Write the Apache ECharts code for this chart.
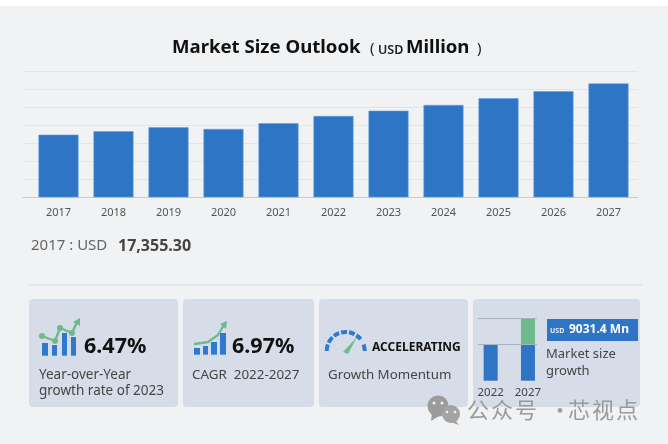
<!DOCTYPE html>
<html><head><meta charset="utf-8">
<style>html,body{margin:0;padding:0;background:#fff}#c{width:668px;height:444px}</style>
<script src="https://cdn.jsdelivr.net/npm/echarts@6/dist/echarts.min.js"></script>
</head><body><div id="c"></div>
<script>
const categories = ['2017','2018','2019','2020','2021','2022','2023','2024','2025','2026','2027'];
const marketSize = [17355.3,18290,19400,18930,20510,22530,23990,25580,27430,29380,31561];
const miniCategories = ['2022','2027'];
const miniBase = [22530,22530];
const miniGrowth = [0,9031.4];
const miniGuides = [22530,31561];

const F = '"Noto Sans", sans-serif';
const BLUE = '#2e75c6', GREEN = '#6dbb8d', CARD = '#d6dde8';
const g = [];
const rect = (x,y,w,h,fill,r) => g.push({type:'rect',z:-5,shape:{x,y,width:w,height:h,r:r||0},style:{fill},silent:true});
const txt = (x,y,text,size,fill,weight,align) => g.push({type:'text',z:20,x,y,style:{text,fontSize:size,fill,fontWeight:weight||'normal',fontFamily:F,textAlign:align||'left',textVerticalAlign:'middle'},silent:true});
const poly = (points,stroke,w) => g.push({type:'polyline',z:10,shape:{points,smooth:0},style:{stroke,lineWidth:w,fill:null,lineCap:'round',lineJoin:'round'},silent:true});
const tri = (points,fill) => g.push({type:'polygon',z:10,shape:{points},style:{fill},silent:true});
const dot = (cx,cy,r,fill) => g.push({type:'circle',z:11,shape:{cx,cy,r},style:{fill},silent:true});
const bar = (x,y,w,h,fill) => g.push({type:'rect',z:9,shape:{x,y,width:w,height:h},style:{fill},silent:true});

// page backdrop
rect(0,6,668,438,'#f1f2f4');
rect(29,284.6,613,1,'#d8d9e4');
rect(29,299,149,108,CARD,4);
rect(183,299,131,108,CARD,4);
rect(319,299,149,108,CARD,4);
rect(473,299,167,108,CARD,4);

// title
txt(172,48,'Market Size Outlook',18.6,'#111','bold');
txt(370,49,'(',15,'#222');
txt(378,50,'USD',12.5,'#222','600');
txt(406,48,'Million',18.6,'#111','bold');
txt(477,49,')',15,'#222');

txt(31,246,'2017 : USD',15,'#666');
txt(118,246,'17,355.30',16,'#444','bold');

// card 1
[[42,343,6],[52,345,5],[62,333,5],[71,337,5]].forEach(b=>bar(b[0],b[1],b[2],355.7-b[1],'#2f7ad0'));
poly([[42,336],[55,341],[60,328],[72,333],[77,322]],GREEN,2.4);
tri([[73,322],[80,318],[80,326]],GREEN);
[[42,336],[55,341],[60,328],[72,333]].forEach(p=>dot(p[0],p[1],3,GREEN));
txt(84,347,'6.47%',21.5,'#111','bold');
txt(39,375,'Year-over-Year',13.5,'#444');
txt(39,391,'growth rate of 2023',13.5,'#444');

// card 2
[[194,348,6],[203,346,5],[211,342,6],[220,333,6]].forEach(b=>bar(b[0],b[1],b[2],354.7-b[1],'#2f7ad0'));
poly([[195,344],[208,342],[218,335],[224,325]],GREEN,2.4);
tri([[220,324],[227,321],[226,329]],GREEN);
txt(232,347,'6.97%',21.5,'#111','bold');
txt(192,375,'CAGR  2022-2027',13.4,'#444');

// card 3 gauge
[[180,200],[206,226],[232,250],[256,274],[280,298],[304,322],[340,360]].forEach(a=>g.push({type:'arc',z:10,shape:{cx:345.7,cy:351,r:19,startAngle:a[0]*Math.PI/180,endAngle:a[1]*Math.PI/180},style:{stroke:'#2f7ad0',lineWidth:4,fill:null},silent:true}));
tri([[343,352],[348,354],[357,337]],GREEN);
txt(372,348,'ACCELERATING',12,'#111','bold');
txt(328,375,'Growth Momentum',13.3,'#444');

// card 4
bar(547,319,91,22,BLUE);
txt(550,331,'USD',7,'#e6f0fb','bold');
txt(569,330,'9031.4 Mn',12,'#fff','bold');
txt(546,354,'Market size',13,'#444');
txt(546,371,'growth',13,'#444');

// watermark
dot(438,406,10.5,'#9b9b9b'); dot(451,414,9,'#a3a3a3');
tri([[432,413],[431,421],[439,416]],'#9b9b9b');
tri([[455,420],[459,425],[450,422]],'#a3a3a3');
dot(434,403,1.5,'#f1f2f4');dot(442,403,1.5,'#f1f2f4');dot(447,412,1.3,'#f1f2f4');dot(455,412,1.3,'#f1f2f4');
const WM='"Noto Sans CJK SC"';
[['公',467],['众',491],['号',515],['·',549],['芯',568],['视',592],['点',616]].forEach(c=>g.push({type:'text',z:30,x:c[1],y:410,style:{text:c[0],fontSize:22,fill:'#9a9a9a',fontFamily:WM,textVerticalAlign:'middle'},silent:true}));

const lineStyle = {color:'#e4e5e9',width:1};
const option = {
  animation:false,
  backgroundColor:'#ffffff',
  textStyle:{fontFamily:F},
  grid:[
    {left:23,right:30,top:71,height:126.3},
    {left:31,width:605,top:71,height:126.3},
    {left:472,width:74.6,top:318.3,height:62.4},
    {left:478,width:59,top:318.3,height:62.4}
  ],
  xAxis:[
    {gridIndex:0,type:'value',min:0,max:1,show:true,axisLabel:{show:false},axisTick:{show:false},splitLine:{show:false},axisLine:{show:true,onZero:false,lineStyle:{color:'#c9cace',width:1}}},
    {gridIndex:1,type:'category',data:categories,axisTick:{show:false},axisLine:{show:false},axisLabel:{color:'#555',fontSize:11,margin:10,fontFamily:F,interval:0}},
    {gridIndex:2,type:'category',data:miniCategories,axisTick:{show:false},axisLine:{show:false},axisLabel:{color:'#444',fontSize:11.5,margin:6,fontFamily:F,interval:0}},
    {gridIndex:3,type:'value',min:0,max:1,show:false}
  ],
  yAxis:[
    {gridIndex:0,type:'value',min:0,max:35000,interval:5000,axisLabel:{show:false},axisTick:{show:false},axisLine:{show:false},splitLine:{show:true,lineStyle}},
    {gridIndex:1,type:'value',min:0,max:35000,interval:5000,show:false},
    {gridIndex:2,type:'value',min:9900,max:31561,show:false},
    {gridIndex:3,type:'value',min:9900,max:31561,show:false}
  ],
  series:[
    {type:'bar',xAxisIndex:1,yAxisIndex:1,data:marketSize,barWidth:40,z:3,silent:true,
      itemStyle:{color:BLUE,borderColor:'#5f9fdf',borderWidth:0.6}},
    {type:'bar',xAxisIndex:2,yAxisIndex:2,stack:'m',data:miniBase,barWidth:14,z:3,silent:true,itemStyle:{color:BLUE}},
    {type:'bar',xAxisIndex:2,yAxisIndex:2,stack:'m',data:miniGrowth,barWidth:14,z:3,silent:true,itemStyle:{color:GREEN}},
    {type:'line',xAxisIndex:3,yAxisIndex:3,data:[],z:5,silent:true,
      markLine:{silent:true,symbol:'none',label:{show:false},lineStyle:{color:'#aab2be',width:1,type:'solid'},data:miniGuides.map(v=>({yAxis:v}))}}
  ],
  graphic:{elements:g}
};
echarts.init(document.getElementById('c'),null,{renderer:'canvas'}).setOption(option);
</script></body></html>
